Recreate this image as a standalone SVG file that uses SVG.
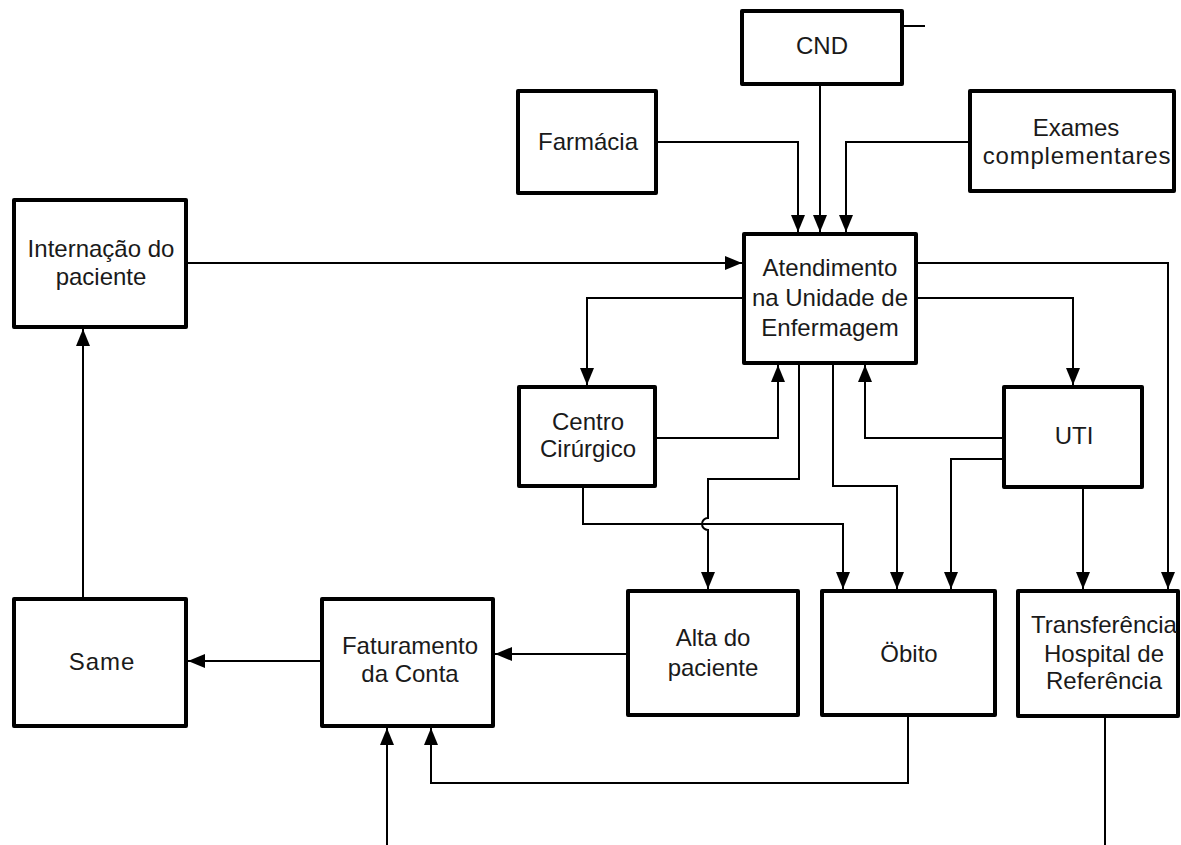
<svg xmlns="http://www.w3.org/2000/svg" width="1181" height="845" viewBox="0 0 1181 845">
  <style>
    .box { fill: #ffffff; stroke: #000000; stroke-width: 4; stroke-linejoin: round; }
    .lbl { font-family: "Liberation Sans", Arial, sans-serif; font-size: 24px; fill: #1a1a1a; text-anchor: middle; }
    .wire { fill: none; stroke: #000000; stroke-width: 2; }
    .arr { marker-end: url(#head); }
  </style>
  <defs>
    <marker id="head" markerUnits="userSpaceOnUse" markerWidth="17" markerHeight="14" refX="17" refY="7" orient="auto">
      <path d="M0,0 L17,7 L0,14 Z" fill="#000000"/>
    </marker>
  </defs>
  <rect width="1181" height="845" fill="#ffffff"/>

  <!-- connectors -->
  <g id="connectors">
    <path class="wire arr" d="M820,86 V232"/>
    <path class="wire arr" d="M658,142 H798 V232"/>
    <path class="wire arr" d="M968,142 H846 V232"/>
    <path class="wire" d="M904,26 H925"/>
    <path class="wire arr" d="M188,263 H742"/>
    <path class="wire arr" d="M742,298 H587 V385"/>
    <path class="wire arr" d="M657,438 H778 V365"/>
    <path class="wire arr" d="M799,365 V479 H708 V518 A6,6 0 0 0 708,530 V589"/>
    <path class="wire arr" d="M583,488 V524 H843 V589"/>
    <path class="wire arr" d="M833,365 V486 H897 V589"/>
    <path class="wire arr" d="M1002,438 H865 V365"/>
    <path class="wire arr" d="M1002,459 H951 V589"/>
    <path class="wire arr" d="M918,298 H1073 V385"/>
    <path class="wire arr" d="M918,263 H1168 V589"/>
    <path class="wire arr" d="M1083,489 V589"/>
    <path class="wire arr" d="M626,654 H495"/>
    <path class="wire arr" d="M320,661 H188"/>
    <path class="wire arr" d="M83,597 V329"/>
    <path class="wire arr" d="M908,717 V783 H431 V728"/>
    <path class="wire arr" d="M387,845 V728"/>
    <path class="wire" d="M1105,718 V845"/>
  </g>

  <!-- nodes -->
  <g id="cnd">
    <rect class="box" x="742" y="11" width="160" height="73"/>
    <text class="lbl" x="822" y="54">CND</text>
  </g>
  <g id="farmacia">
    <rect class="box" x="518" y="91" width="138" height="102"/>
    <text class="lbl" x="588" y="150">Farmácia</text>
  </g>
  <g id="exames">
    <rect class="box" x="970" y="91" width="204" height="100"/>
    <text class="lbl" x="1076" y="136">Exames</text>
    <text class="lbl" x="1077" y="164" letter-spacing="0.8">complementares</text>
  </g>
  <g id="internacao">
    <rect class="box" x="14" y="200" width="172" height="127"/>
    <text class="lbl" x="101" y="257">Internação do</text>
    <text class="lbl" x="101" y="285">paciente</text>
  </g>
  <g id="atendimento">
    <rect class="box" x="744" y="234" width="172" height="129"/>
    <text class="lbl" x="830" y="276">Atendimento</text>
    <text class="lbl" x="830" y="306">na Unidade de</text>
    <text class="lbl" x="830" y="336">Enfermagem</text>
  </g>
  <g id="centro">
    <rect class="box" x="519" y="387" width="136" height="99"/>
    <text class="lbl" x="588" y="430">Centro</text>
    <text class="lbl" x="588" y="457">Cirúrgico</text>
  </g>
  <g id="uti">
    <rect class="box" x="1004" y="387" width="138" height="100"/>
    <text class="lbl" x="1074" y="444">UTI</text>
  </g>
  <g id="alta">
    <rect class="box" x="628" y="591" width="170" height="124"/>
    <text class="lbl" x="713" y="646">Alta do</text>
    <text class="lbl" x="713" y="676">paciente</text>
  </g>
  <g id="obito">
    <rect class="box" x="822" y="591" width="173" height="124"/>
    <text class="lbl" x="909" y="662">Öbito</text>
  </g>
  <g id="transferencia">
    <rect class="box" x="1018" y="591" width="160" height="125"/>
    <text class="lbl" x="1104" y="633">Transferência</text>
    <text class="lbl" x="1104" y="662">Hospital de</text>
    <text class="lbl" x="1104" y="689">Referência</text>
  </g>
  <g id="faturamento">
    <rect class="box" x="322" y="599" width="171" height="127"/>
    <text class="lbl" x="410" y="654">Faturamento</text>
    <text class="lbl" x="410" y="682">da Conta</text>
  </g>
  <g id="same">
    <rect class="box" x="14" y="599" width="172" height="127"/>
    <text class="lbl" x="102" y="670" letter-spacing="1">Same</text>
  </g>
</svg>
